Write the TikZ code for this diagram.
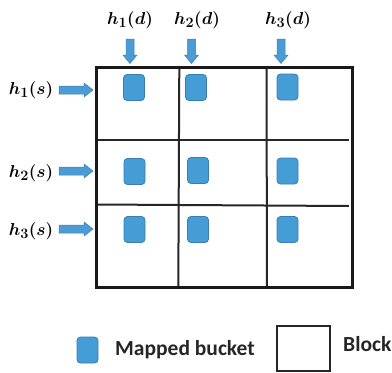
\documentclass[tikz,border=0pt]{standalone}
\usepackage{fontspec}
\usepackage{amsmath,bm}
\newfontfamily\legendfont{Carlito}
\definecolor{bucketblue}{HTML}{459DD6}
\definecolor{bucketedge}{HTML}{3A7DB3}
\definecolor{arrowblue}{HTML}{4B9CD6}
\tikzset{
  bucket/.style={draw=bucketedge, fill=bucketblue, line width=0.8pt, rounded corners=3.5pt,
    minimum width=21pt, minimum height=26pt, inner sep=0pt},
  hlabel/.style={font=\fontsize{19}{21}\selectfont\boldmath, inner sep=0pt, anchor=base},
  legendtext/.style={font=\fontsize{21.5}{24}\selectfont\legendfont\bfseries, inner sep=0pt, anchor=base west, text=black!85},
  blockline/.style={line width=2pt, draw=black!85},
  arrowfill/.style={fill=arrowblue, draw=bucketedge, line width=0.5pt},
  pics/downarrow/.style={code={\filldraw[arrowfill] (-4,0) -- (-4,16) -- (-7,16) -- (0,24.5) -- (7,16) -- (4,16) -- (4,0) -- cycle;}},
  pics/rightarrow/.style={code={\filldraw[arrowfill] (0,-4) -- (25,-4) -- (25,-7) -- (34,0) -- (25,7) -- (25,4) -- (0,4) -- cycle;}},
}
\begin{document}
\begin{tikzpicture}[x=1pt,y=-1pt]
\useasboundingbox (0,0) rectangle (392,373);
% grid
\draw[blockline] (179.3,67) -- (178.3,287);
\draw[blockline] (266.5,67) -- (267,287);
\draw[blockline] (96,139.5) -- (349,139.5);
\draw[blockline] (96,204.5) -- (349,206);
\draw[line width=3pt, draw=black!90] (96,67) rectangle (352,287);
% buckets
\node[bucket] (b11) at (134,87.5) {};
\node[bucket] (b12) at (196,87.5) {};
\node[bucket] (b13) at (287.5,87) {};
\node[bucket] (b21) at (134.5,171.5) {};
\node[bucket] (b22) at (198,170.5) {};
\node[bucket] (b23) at (287.5,171) {};
\node[bucket] (b31) at (134.5,229.5) {};
\node[bucket] (b32) at (198,229.5) {};
\node[bucket] (b33) at (287.5,229.5) {};
% top labels and arrows
\node[hlabel] (d1) at (130,24) {$h_1(d)$};
\node[hlabel] (d2) at (197,24) {$h_2(d)$};
\node[hlabel] (d3) at (288,24) {$h_3(d)$};
\pic at (130,39) {downarrow};
\pic at (191.5,39) {downarrow};
\pic at (281,39) {downarrow};
% left labels and arrows
\node[hlabel] (s1) at (31,94) {$h_1(s)$};
\node[hlabel] (s2) at (31,177) {$h_2(s)$};
\node[hlabel] (s3) at (31,235) {$h_3(s)$};
\pic at (59,90) {rightarrow};
\pic at (59,171) {rightarrow};
\pic at (59,229) {rightarrow};
% legend
\node[bucket] (lb) at (87.5,350) {};
\node[legendtext] (lbt) at (115,355) {Mapped bucket};
\draw[blockline] (277,326) rectangle (329.5,370.5);
\node[legendtext] (lkt) at (343,351) {Block};
\end{tikzpicture}
\end{document}
